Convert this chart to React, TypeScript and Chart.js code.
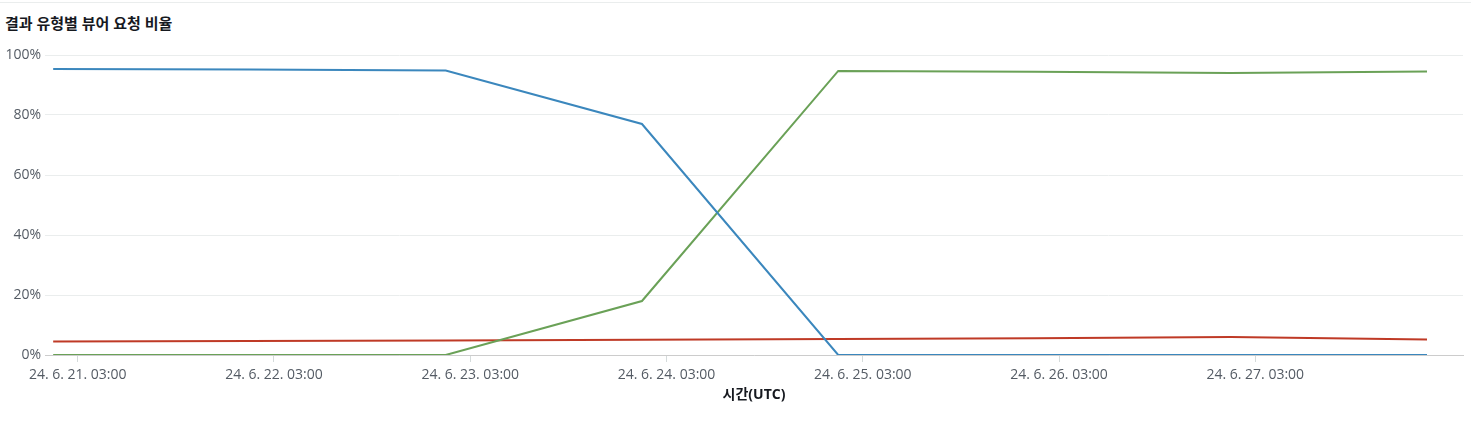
import React, { useEffect, useRef } from "react";
import { Chart, registerables } from "chart.js";

Chart.register(...registerables);

const title = "결과 유형별 뷰어 요청 비율";
const xAxisTitle = "시간(UTC)";
// hours since 24.6.21 00:00 UTC
const pointHours = [0, 24, 48, 72, 96, 120, 144, 168];
const tickHours = [3, 27, 51, 75, 99, 123, 147];
const tickLabels = [
  "24. 6. 21. 03:00",
  "24. 6. 22. 03:00",
  "24. 6. 23. 03:00",
  "24. 6. 24. 03:00",
  "24. 6. 25. 03:00",
  "24. 6. 26. 03:00",
  "24. 6. 27. 03:00",
];
const blueValues = [95.3, 95.2, 94.8, 77.0, 0, 0, 0, 0];
const greenValues = [0, 0, 0, 18.0, 94.7, 94.4, 94.0, 94.5];
const redValues = [4.5, 4.7, 4.8, 5.1, 5.3, 5.6, 6.0, 5.2];
const yTicks = [0, 20, 40, 60, 80, 100];

const FONT = "'Open Sans', 'Noto Sans CJK KR', sans-serif";

export default function App() {
  const ref = useRef<HTMLCanvasElement | null>(null);

  useEffect(() => {
    document.body.style.margin = "0";
    if (!ref.current) return;
    const toPts = (vals: number[]) => vals.map((v, i) => ({ x: pointHours[i], y: v }));
    const chart = new Chart(ref.current, {
      type: "line",
      data: {
        datasets: [
          { label: "blue", data: toPts(blueValues), borderColor: "#3b87bd", borderWidth: 2, pointRadius: 0, tension: 0 },
          { label: "green", data: toPts(greenValues), borderColor: "#6aa157", borderWidth: 2, pointRadius: 0, tension: 0 },
          { label: "red", data: toPts(redValues), borderColor: "#bf3a26", borderWidth: 2, pointRadius: 0, tension: 0 },
        ],
      },
      options: {
        responsive: false,
        animation: false,
        maintainAspectRatio: false,
        layout: { padding: { left: 0, right: 8, top: 55, bottom: 15 } },
        plugins: { legend: { display: false }, tooltip: { enabled: false }, title: { display: false } },
        scales: {
          x: {
            type: "linear",
            min: -1,
            max: 172.4,
            afterBuildTicks: (s: any) => {
              s.ticks = tickHours.map((v) => ({ value: v }));
            },
            afterFit: (s: any) => {
              s.height = 52;
            },
            ticks: {
              autoSkip: false,
              maxRotation: 0,
              padding: 5,
              color: "#545b64",
              font: { family: FONT, size: 14 },
              callback: (v: any) => {
                const i = tickHours.indexOf(Number(v));
                return i >= 0 ? tickLabels[i] : "";
              },
            },
            grid: { drawOnChartArea: false, drawTicks: true, tickLength: 7, color: "#d5dbdb" },
            border: { display: true, color: "#cccccc", width: 1 },
            title: {
              display: true,
              text: xAxisTitle,
              color: "#16191f",
              font: { family: FONT, size: 14, weight: "bold" },
              padding: { top: 0, bottom: 4 },
            },
          },
          y: {
            min: 0,
            max: 100,
            afterBuildTicks: (s: any) => {
              s.ticks = yTicks.map((v) => ({ value: v }));
            },
            afterFit: (s: any) => {
              s.width = 45;
            },
            ticks: {
              padding: 4,
              color: "#545b64",
              font: { family: FONT, size: 14 },
              callback: (v: any) => `${v}%`,
            },
            grid: { drawTicks: false, color: "#eaeded" },
            border: { display: false },
          },
        },
      },
    });
    return () => chart.destroy();
  }, []);

  return (
    <div style={{ position: "relative", width: 1471, height: 422, background: "#fff" }}>
      <div style={{ position: "absolute", left: 0, top: 2, width: 1471, height: 1, background: "#eaeded" }} />
      <div
        style={{
          position: "absolute",
          left: 5,
          top: 13,
          fontFamily: FONT,
          fontSize: 15,
          fontWeight: 700,
          color: "#16191f",
          lineHeight: "20px",
          whiteSpace: "nowrap",
        }}
      >
        {title}
      </div>
      <canvas ref={ref} width={1471} height={422} style={{ position: "absolute", left: 0, top: 0 }} />
    </div>
  );
}
